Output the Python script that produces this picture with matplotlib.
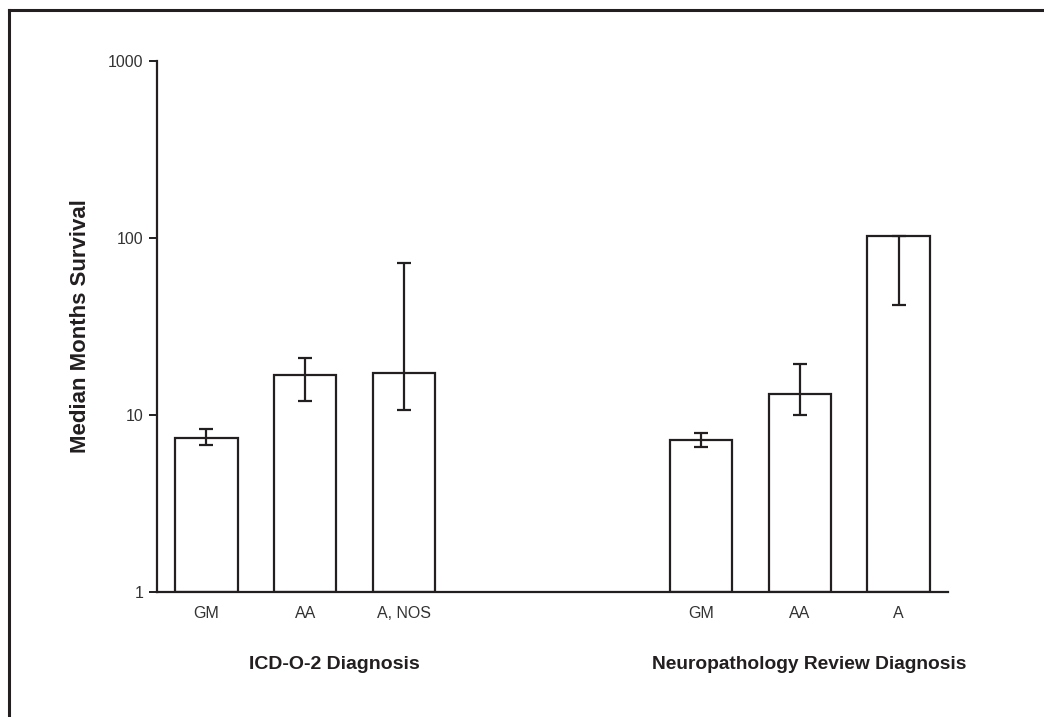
import matplotlib
matplotlib.use("Agg")
import matplotlib.pyplot as plt
import matplotlib.ticker as mticker
from matplotlib.lines import Line2D

plt.rcParams["font.family"] = ["Liberation Sans", "DejaVu Sans"]

# ---- data ----
categories = ["GM", "AA", "A, NOS", "GM", "AA", "A"]
positions = [0, 1, 2, 5, 6, 7]
median_months = [7.4, 16.8, 17.3, 7.24, 13.1, 102]
ci_low = [6.77, 12.0, 10.7, 6.58, 9.94, 42]
ci_high = [8.3, 21.0, 72.0, 7.96, 19.5, 102]
group_labels = ["ICD-O-2 Diagnosis", "Neuropathology Review Diagnosis"]

INK = "#231f20"
BASE = 1  # log axis floor, bars start here

fig = plt.figure(figsize=(10.44, 7.17), dpi=100)
ax = fig.add_axes([0.1504, 0.1743, 0.7577, 0.7406])

err_lo = [m - lo for m, lo in zip(median_months, ci_low)]
err_hi = [hi - m for m, hi in zip(median_months, ci_high)]

ax.bar(positions, [m - BASE for m in median_months], width=0.63, bottom=BASE,
       color="white", edgecolor=INK, linewidth=1.6, zorder=2)
ax.errorbar(positions, median_months, yerr=[err_lo, err_hi],
            fmt="none", ecolor=INK, elinewidth=1.6, capsize=5,
            capthick=1.6, zorder=3)

ax.set_yscale("log")
ax.set_ylim(1, 1000)
ax.set_xlim(-0.5, 7.5)
ax.yaxis.set_major_locator(mticker.FixedLocator([1, 10, 100, 1000]))
ax.yaxis.set_major_formatter(mticker.FixedFormatter(["1", "10", "100", "1000"]))
ax.yaxis.set_minor_locator(mticker.NullLocator())
ax.set_xticks(positions)
ax.set_xticklabels(categories)

ax.spines["top"].set_visible(False)
ax.spines["right"].set_visible(False)
ax.spines["left"].set_color(INK)
ax.spines["bottom"].set_color(INK)
ax.spines["left"].set_linewidth(1.6)
ax.spines["bottom"].set_linewidth(1.6)
ax.tick_params(axis="y", direction="out", length=6, width=1.4,
               colors=INK, labelsize=11.5, pad=4)
ax.tick_params(axis="x", length=0, colors=INK, labelsize=11.5, pad=10)
for lbl in ax.get_xticklabels() + ax.get_yticklabels():
    lbl.set_color("#333333")

ax.set_ylabel("Median Months Survival", fontsize=16, fontweight="bold",
              color=INK, labelpad=12)

# group captions under the category labels
ax.text(0.224, -0.137, group_labels[0], transform=ax.transAxes,
        ha="center", va="center", fontsize=14, fontweight="bold", color=INK)
ax.text(0.824, -0.137, group_labels[1], transform=ax.transAxes,
        ha="center", va="center", fontsize=13.8, fontweight="bold", color=INK)

# frame fragment of the cropped figure (top and left edges)
fig.add_artist(Line2D([9 / 1044, 1], [1 - 10 / 717, 1 - 10 / 717],
                      transform=fig.transFigure, color=INK, linewidth=2.2))
fig.add_artist(Line2D([9 / 1044, 9 / 1044], [0, 1 - 10 / 717],
                      transform=fig.transFigure, color=INK, linewidth=2.2))

fig.savefig("out.png", dpi=100, facecolor="white")
